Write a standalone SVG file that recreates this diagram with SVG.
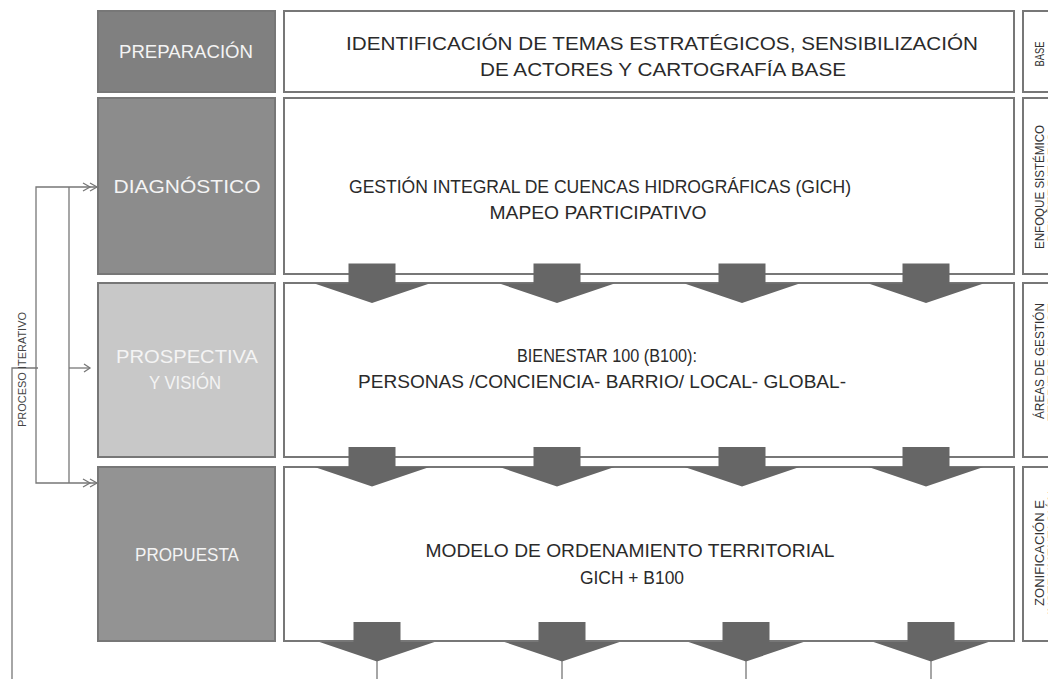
<svg xmlns="http://www.w3.org/2000/svg" width="1048" height="679" viewBox="0 0 1048 679">
<style>
.box{stroke:#777;stroke-width:2}
.main{fill:#fff;stroke:#777;stroke-width:2}
.lbl{font-family:"Liberation Sans",Arial,sans-serif;font-size:18px;fill:#f4f4f4;text-anchor:middle}
.txt{font-family:"Liberation Sans",Arial,sans-serif;font-size:19px;fill:#2a2a2a;text-anchor:middle}
.side{font-family:"Liberation Sans",Arial,sans-serif;font-size:12px;fill:#333;text-anchor:middle}
.arr{fill:#666}
.ln{fill:none;stroke:#777;stroke-width:1.3}
</style>
<defs>
<path id="bigArrow" d="M-23.5,0 H23.5 V20 H57.5 L0,39.5 L-57.5,20 H-23.5 Z"/>
</defs>
<rect width="1048" height="679" fill="#fff"/>

<g id="preparacion">
<rect class="box" x="98" y="11" width="177" height="81" fill="#808080"/>
<text class="lbl" x="186" y="58" textLength="134" lengthAdjust="spacingAndGlyphs">PREPARACIÓN</text>
<rect class="main" x="284" y="11" width="730" height="81"/>
<text class="txt" x="662" y="50" textLength="632" lengthAdjust="spacingAndGlyphs">IDENTIFICACIÓN DE TEMAS ESTRATÉGICOS, SENSIBILIZACIÓN</text>
<text class="txt" x="663" y="76" textLength="366" lengthAdjust="spacingAndGlyphs">DE ACTORES Y CARTOGRAFÍA BASE</text>
<rect class="main" x="1023" y="11" width="40" height="81"/>
<text class="side" transform="translate(1044,54) rotate(-90)" textLength="25" lengthAdjust="spacingAndGlyphs">BASE</text>
</g>

<g id="diagnostico">
<rect class="box" x="98" y="98" width="177" height="176" fill="#8c8c8c"/>
<text class="lbl" x="187" y="193" textLength="147" lengthAdjust="spacingAndGlyphs">DIAGNÓSTICO</text>
<rect class="main" x="284" y="98" width="730" height="176"/>
<text class="txt" x="600" y="193" textLength="502" lengthAdjust="spacingAndGlyphs">GESTIÓN INTEGRAL DE CUENCAS HIDROGRÁFICAS (GICH)</text>
<text class="txt" x="598" y="219" textLength="217" lengthAdjust="spacingAndGlyphs">MAPEO PARTICIPATIVO</text>
<rect class="main" x="1023" y="98" width="40" height="176"/>
<text class="side" transform="translate(1044,187) rotate(-90)" textLength="124" lengthAdjust="spacingAndGlyphs">ENFOQUE SISTÉMICO</text>
<text class="side" transform="translate(1057,187) rotate(-90)" textLength="110" lengthAdjust="spacingAndGlyphs">DEL TERRITORIO</text>
</g>

<g id="prospectiva">
<rect class="box" x="98" y="283" width="177" height="174" fill="#c8c8c8"/>
<text class="lbl" x="187" y="363" textLength="142" lengthAdjust="spacingAndGlyphs">PROSPECTIVA</text>
<text class="lbl" x="185" y="389" textLength="72" lengthAdjust="spacingAndGlyphs">Y VISIÓN</text>
<rect class="main" x="284" y="283" width="730" height="174"/>
<text class="txt" x="607" y="362" textLength="180" lengthAdjust="spacingAndGlyphs">BIENESTAR 100 (B100):</text>
<text class="txt" x="602" y="388" textLength="488" lengthAdjust="spacingAndGlyphs">PERSONAS /CONCIENCIA- BARRIO/ LOCAL- GLOBAL-</text>
<rect class="main" x="1023" y="283" width="40" height="174"/>
<text class="side" transform="translate(1044,361) rotate(-90)" textLength="116" lengthAdjust="spacingAndGlyphs">ÁREAS DE GESTIÓN</text>
<text class="side" transform="translate(1057,361) rotate(-90)" textLength="120" lengthAdjust="spacingAndGlyphs">TERRITORIAL (AGT)</text>
</g>

<g id="propuesta">
<rect class="box" x="98" y="467" width="177" height="174" fill="#939393"/>
<text class="lbl" x="187" y="561" textLength="104" lengthAdjust="spacingAndGlyphs">PROPUESTA</text>
<rect class="main" x="284" y="467" width="730" height="174"/>
<text class="txt" x="630" y="557" textLength="409" lengthAdjust="spacingAndGlyphs">MODELO DE ORDENAMIENTO TERRITORIAL</text>
<text class="txt" x="632" y="584" textLength="104" lengthAdjust="spacingAndGlyphs">GICH + B100</text>
<rect class="main" x="1023" y="467" width="40" height="174"/>
<text class="side" transform="translate(1044,553) rotate(-90)" textLength="106" lengthAdjust="spacingAndGlyphs">ZONIFICACIÓN E</text>
<text class="side" transform="translate(1057,553) rotate(-90)" textLength="124" lengthAdjust="spacingAndGlyphs">INSTRUMENTACIÓN</text>
</g>

<g id="connectors">
<use href="#bigArrow" class="arr" x="372" y="263.5"/>
<use href="#bigArrow" class="arr" x="557" y="263.5"/>
<use href="#bigArrow" class="arr" x="742" y="263.5"/>
<use href="#bigArrow" class="arr" x="926" y="263.5"/>
<use href="#bigArrow" class="arr" x="372" y="447"/>
<use href="#bigArrow" class="arr" x="557" y="447"/>
<use href="#bigArrow" class="arr" x="742" y="447"/>
<use href="#bigArrow" class="arr" x="926" y="447"/>
<use href="#bigArrow" class="arr" x="377" y="622"/>
<use href="#bigArrow" class="arr" x="562" y="622"/>
<use href="#bigArrow" class="arr" x="746" y="622"/>
<use href="#bigArrow" class="arr" x="931" y="622"/>
<path class="ln" d="M377,661 V679 M562,661 V679 M746,661 V679 M931,661 V679"/>

<path class="ln" d="M12,679 V368 H38"/>
<path class="ln" d="M97,187 H36 V483 H97"/>
<path class="ln" d="M69,187 V483"/>
<path class="ln" d="M69,368 H90"/>
<path class="ln" d="M83,183 L90,187 L83,191 M90,183 L97,187 L90,191"/>
<path class="ln" d="M83,479 L90,483 L83,487 M90,479 L97,483 L90,487"/>
<path class="ln" d="M84,364 L90,368 L84,372"/>
</g>
<text font-family="'Liberation Sans',Arial,sans-serif" font-size="10" fill="#444" transform="translate(26,427) rotate(-90)" textLength="115" lengthAdjust="spacingAndGlyphs">PROCESO ITERATIVO</text>
</svg>
